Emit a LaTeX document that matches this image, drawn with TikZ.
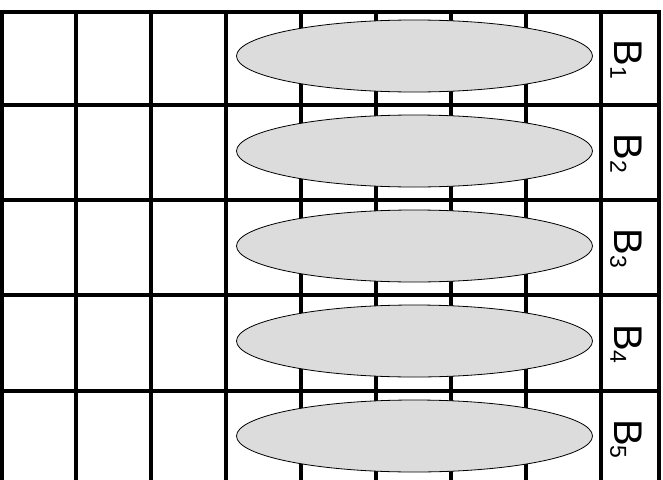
\documentclass[tikz,border=0pt]{standalone}
\usepackage{fontspec}
\setmainfont{Liberation Sans}
\usetikzlibrary{shapes.geometric}
\definecolor{ovalgray}{RGB}{220,220,220}
\newcommand{\blocklabel}[1]{B\raisebox{-4pt}{\fontsize{23}{23}\selectfont #1}}

\begin{document}
\begin{tikzpicture}[x=1pt, y=-1pt,
    gridline/.style={line width=3.3pt, line cap=rect},
    oval/.style={ellipse, draw, line width=0.8pt, fill=ovalgray,
      minimum width=356pt, minimum height=72pt, inner sep=0pt},
    tag/.style={rotate=-90, inner sep=0pt, font=\fontsize{40}{42}\selectfont}]
  \useasboundingbox (0,0) rectangle (663,479);
  % grid
  \foreach \y in {12,105,200,295,391}
    \draw[gridline] (2,\y) -- (659,\y);
  \foreach \x in {2,76,151,226,301,376,451,526,601,659}
    \draw[gridline] (\x,12) -- (\x,479);
  % blocks
  \foreach \i/\y/\t in {1/56/59.5, 2/151/153.5, 3/246/248.5, 4/341/344, 5/436/439} {
    \node[oval] (oval\i) at (414.5,\y) {};
    \node[tag] (tag\i) at (626,\t) {\blocklabel{\i}};
  }
\end{tikzpicture}
\end{document}
